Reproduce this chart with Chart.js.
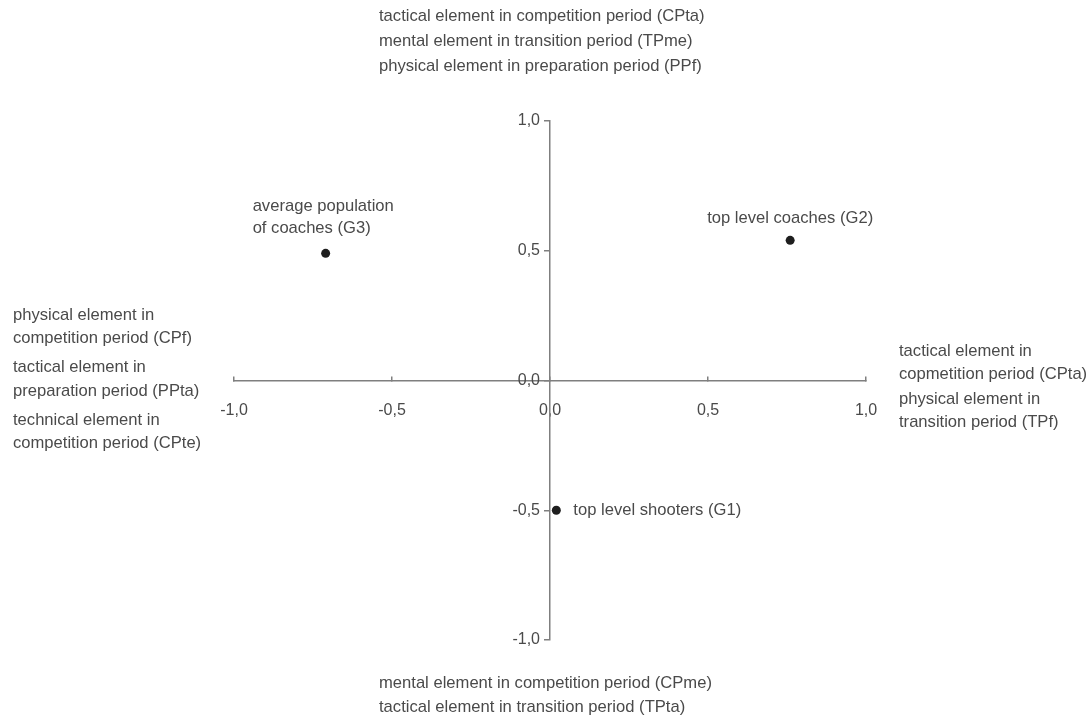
<!doctype html>
<html lang="en">
  <head>
    <meta charset="utf-8">
    <script src="https://cdn.jsdelivr.net/npm/chart.js@4.4.0/dist/chart.umd.min.js"></script>
    <title>Coaches and shooters</title>
    <style>
      * { margin: 0; padding: 0; }
      body { background: #fff; width: 1090px; height: 720px; overflow: hidden; }
    </style>
  </head>
  <body>
    <canvas id="myChart" width="1090" height="720"></canvas>
    <script>
    // groups and their coordinates
    const groups = ['top level shooters (G1)', 'top level coaches (G2)', 'average population of coaches (G3)'];
    const groupNotes = [['top level shooters (G1)'], ['top level coaches (G2)'], ['average population', 'of coaches (G3)']];
    const xValues = [0.02, 0.76, -0.71];
    const yValues = [-0.5, 0.54, 0.49];
    const tickValues = [-1, -0.5, 0, 0.5, 1];

    // quadrant descriptions round the plot
    const topLabels = ['tactical element in competition period (CPta)', 'mental element in transition period (TPme)', 'physical element in preparation period (PPf)'];
    const bottomLabels = ['mental element in competition period (CPme)', 'tactical element in transition period (TPta)'];
    const leftLabels = ['physical element in', 'competition period (CPf)', 'tactical element in', 'preparation period (PPta)', 'technical element in', 'competition period (CPte)'];
    const rightLabels = ['tactical element in', 'copmetition period (CPta)', 'physical element in', 'transition period (TPf)'];

    const FONT = '"Liberation Sans", Arial, sans-serif';
    const TEXT = '#4a4a4a';
    const AXIS = '#7f7f7f';

    const fmt = v => Number(v).toFixed(1).replace('.', ',');

    const notePlugin = {
      id: 'notes',
      afterDatasetsDraw(chart) {
        const ctx = chart.ctx;
        const xs = chart.scales.x, ys = chart.scales.y;
        ctx.save();
        ctx.font = '16.6px ' + FONT;
        ctx.fillStyle = TEXT;
        ctx.textBaseline = 'middle';

        // labels next to the points
        const px = i => xs.getPixelForValue(xValues[i]);
        const py = i => ys.getPixelForValue(yValues[i]);
        ctx.textAlign = 'left';
        ctx.fillText(groupNotes[0][0], px(0) + 17, py(0));
        ctx.textAlign = 'center';
        ctx.fillText(groupNotes[1][0], px(1), py(1) - 22);
        ctx.textAlign = 'left';
        groupNotes[2].forEach((t, k) => ctx.fillText(t, px(2) - 73, py(2) - 47 + k * 22));

        // outer descriptions
        topLabels.forEach((t, k) => ctx.fillText(t, 379, 16 + k * 25));
        bottomLabels.forEach((t, k) => ctx.fillText(t, 379, 683 + k * 24));
        const leftY = [315, 338, 367, 391, 420, 443];
        leftLabels.forEach((t, k) => ctx.fillText(t, 13, leftY[k]));
        const rightY = [351, 374, 399, 422];
        rightLabels.forEach((t, k) => ctx.fillText(t, 899, rightY[k]));
        ctx.restore();
      }
    };

    new Chart(document.getElementById('myChart'), {
      type: 'scatter',
      data: {
        datasets: [{
          label: 'groups',
          data: xValues.map((x, i) => ({ x: x, y: yValues[i] })),
          pointRadius: 4.5,
          pointHoverRadius: 4.5,
          backgroundColor: '#1e1e1e',
          borderWidth: 0
        }]
      },
      options: {
        responsive: false,
        animation: false,
        devicePixelRatio: 1,
        layout: { padding: { left: 234, right: 224, top: 121, bottom: 80 } },
        plugins: { legend: { display: false }, tooltip: { enabled: false } },
        scales: {
          x: {
            type: 'linear', min: -1, max: 1,
            position: 'center',
            afterBuildTicks: s => { s.ticks = tickValues.map(v => ({ value: v })); },
            grid: { drawOnChartArea: false, drawTicks: true, tickLength: -5, color: AXIS, lineWidth: 1.5 },
            border: { color: AXIS, width: 1.5 },
            ticks: { padding: 25, color: TEXT, font: { family: FONT, size: 16 }, maxRotation: 0, callback: fmt }
          },
          y: {
            type: 'linear', min: -1, max: 1,
            position: 'center',
            afterBuildTicks: s => { s.ticks = tickValues.map(v => ({ value: v })); },
            grid: { drawOnChartArea: false, drawTicks: true, tickLength: 5, color: AXIS, lineWidth: 1.5 },
            border: { color: AXIS, width: 1.5 },
            ticks: { padding: 5, color: TEXT, font: { family: FONT, size: 16 }, callback: fmt }
          }
        }
      },
      plugins: [notePlugin]
    });
    </script>
  </body>
</html>
